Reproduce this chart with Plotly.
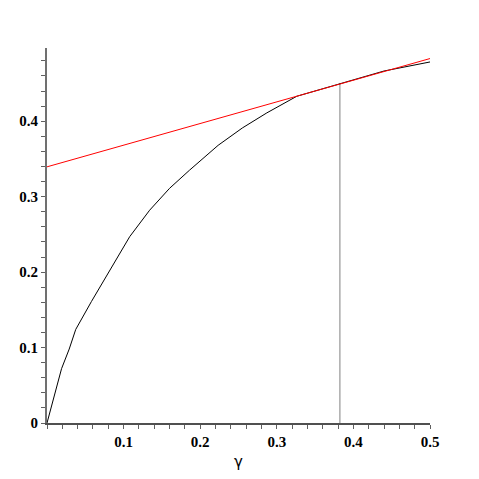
import plotly.graph_objects as go

# black curve
curve_x = [0, 0.019, 0.029, 0.0375, 0.058, 0.082, 0.108, 0.134, 0.160, 0.186,
           0.2234, 0.255, 0.287, 0.326, 0.3824, 0.44, 0.5]
curve_y = [0, 0.072, 0.098, 0.124, 0.161, 0.203, 0.247, 0.282, 0.311, 0.335,
           0.368, 0.391, 0.411, 0.433, 0.450, 0.4665, 0.4785]

# red tangent line
line_x = [0, 0.5]
line_y = [0.3395, 0.483]

# vertical marker at the tangent point
mark_x = [0.3824, 0.3824]
mark_y = [0, 0.4507]

x_ticks = [0.1, 0.2, 0.3, 0.4, 0.5]
x_labels = ["0.1", "0.2", "0.3", "0.4", "0.5"]
y_ticks = [0, 0.1, 0.2, 0.3, 0.4]
y_labels = ["0", "0.1", "0.2", "0.3", "0.4"]

fig = go.Figure()

fig.add_trace(go.Scatter(x=mark_x, y=mark_y, mode='lines',
                         line=dict(color='#808080', width=1)))
fig.add_trace(go.Scatter(x=curve_x, y=curve_y, mode='lines',
                         line=dict(color='black', width=1)))
fig.add_trace(go.Scatter(x=line_x, y=line_y, mode='lines',
                         line=dict(color='red', width=1)))

tick_font = dict(family="Liberation Serif", size=15, color='black', weight='bold')

fig.update_layout(
    width=479, height=479,
    showlegend=False,
    plot_bgcolor='white',
    paper_bgcolor='white',
    margin=dict(l=39, r=57, t=40, b=64),
    xaxis=dict(
        range=[0, 0.5],
        tickmode='array', tickvals=x_ticks, ticktext=x_labels,
        ticks='outside', ticklen=4, tickcolor='#606060',
        tickfont=tick_font,
        minor=dict(tickmode='linear', tick0=0, dtick=0.02, ticks='outside',
                   ticklen=4, tickcolor='#606060', showgrid=False),
        showline=True, linecolor='#505050', linewidth=1.5,
        showgrid=False, zeroline=False,
        title=dict(text="γ", font=dict(family="DejaVu Sans", size=15, color='black'),
                   standoff=8),
    ),
    yaxis=dict(
        range=[0, 0.497],
        tickmode='array', tickvals=y_ticks, ticktext=y_labels,
        ticks='outside', ticklen=4, tickcolor='#606060',
        tickfont=tick_font,
        minor=dict(tickmode='linear', tick0=0, dtick=0.02, ticks='outside',
                   ticklen=4, tickcolor='#606060', showgrid=False),
        showline=True, linecolor='#707070', linewidth=2,
        showgrid=False, zeroline=False,
    ),
)

fig.write_html("out.html")
